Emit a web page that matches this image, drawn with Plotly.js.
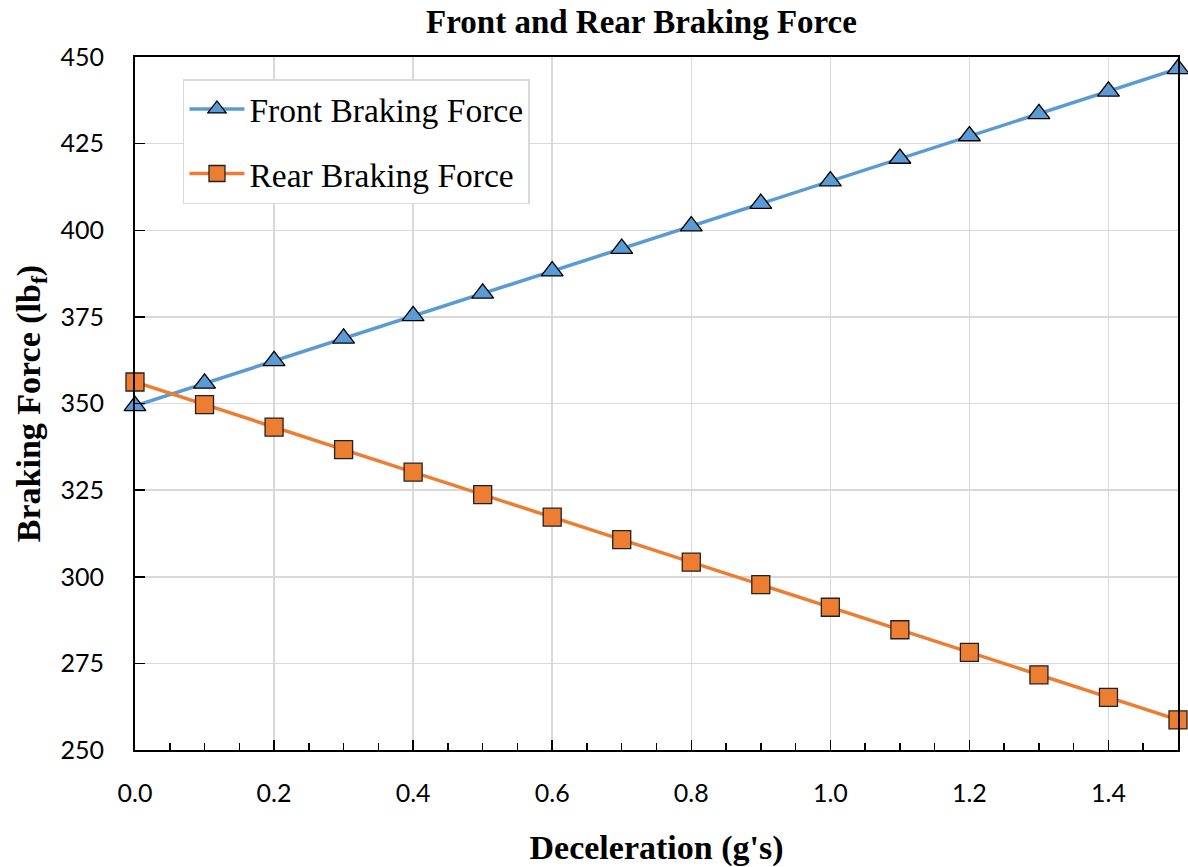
<!DOCTYPE html>
<html>
<head>
<meta charset="utf-8">
<script src="https://cdn.plot.ly/plotly-3.0.1.min.js"></script>
<style>
  html, body { margin: 0; padding: 0; background: #fff; }
  #chart { width: 1188px; height: 867px; }
</style>
</head>
<body>
<div id="chart"></div>
<script>
// Deceleration in g's
const decel = [0.0, 0.1, 0.2, 0.3, 0.4, 0.5, 0.6, 0.7, 0.8, 0.9, 1.0, 1.1, 1.2, 1.3, 1.4, 1.5];
// Front axle braking force (lbf)
const frontForce = [349.3, 355.8, 362.3, 368.8, 375.3, 381.8, 388.2, 394.7, 401.2, 407.7, 414.2, 420.7, 427.2, 433.6, 440.1, 446.6];
// Rear axle braking force (lbf)
const rearForce = [356.2, 349.7, 343.2, 336.7, 330.2, 323.7, 317.2, 310.7, 304.2, 297.7, 291.2, 284.7, 278.2, 271.7, 265.2, 258.7];

const seriesNames = ['Front Braking Force', 'Rear Braking Force'];
const yTickVals = [250, 275, 300, 325, 350, 375, 400, 425, 450];

const serif = '"Liberation Serif", "Times New Roman", serif';
const sans = 'Lato, "Noto Sans", sans-serif';

const traces = [
  {
    x: decel, y: frontForce, name: seriesNames[0], legendgroup: 'front',
    type: 'scatter', mode: 'lines+markers', cliponaxis: false,
    line: { color: '#5B9BD5', width: 3.5 },
    marker: { symbol: 'triangle-up', size: 19, color: '#5B9BD5', line: { color: '#000', width: 1.3 } }
  },
  {
    x: decel, y: rearForce, name: seriesNames[1], legendgroup: 'rear',
    type: 'scatter', mode: 'lines+markers', cliponaxis: false,
    line: { color: '#ED7D31', width: 3.5 },
    marker: { symbol: 'square', size: 18, color: '#ED7D31', line: { color: '#222', width: 1.3 } }
  }
];

const layout = {
  width: 1188, height: 867,
  margin: { l: 135, r: 10, t: 57, b: 117 },
  paper_bgcolor: '#fff', plot_bgcolor: '#fff',
  font: { family: sans, color: '#000', size: 25 },
  title: {
    text: '<b>Front and Rear Braking Force</b>',
    font: { family: serif, size: 33, color: '#000' },
    x: 0.54, xanchor: 'center', y: 0.975, yanchor: 'middle'
  },
  xaxis: {
    range: [0, 1.5], tickmode: 'linear', tick0: 0, dtick: 0.2, tickformat: '.1f',
    showgrid: true, gridcolor: '#d9d9d9', gridwidth: 1.5,
    showline: true, linecolor: '#000', linewidth: 2, mirror: true,
    ticks: 'inside', ticklen: 10, tickwidth: 1.5, tickcolor: '#000',
    minor: { tickmode: 'linear', tick0: 0, dtick: 0.05, ticks: 'inside', ticklen: 7, tickwidth: 1.5,
             tickcolor: '#000', showgrid: false },
    ticklabelstandoff: 20,
    tickfont: { family: sans, size: 25, color: '#000' },
    zeroline: false, automargin: false,
    title: { text: '<b>Deceleration (g\'s)</b>', font: { family: serif, size: 34, color: '#000' }, standoff: 30 }
  },
  yaxis: {
    range: [250, 450], tickmode: 'array', tickvals: yTickVals,
    showgrid: true, gridcolor: '#d9d9d9', gridwidth: 1.5,
    showline: true, linecolor: '#000', linewidth: 2, mirror: true,
    ticks: 'inside', ticklen: 10, tickwidth: 1.5, tickcolor: '#000',
    ticklabelstandoff: 24,
    tickfont: { family: sans, size: 25, color: '#000' },
    zeroline: false, automargin: false,
    title: { text: '<b>Braking Force (lb<sub>f</sub>)</b>', font: { family: serif, size: 34, color: '#000' }, standoff: 10 }
  },
  showlegend: true,
  legend: {
    x: 0.046, y: 0.968, xanchor: 'left', yanchor: 'top',
    bgcolor: '#fff', bordercolor: '#d9d9d9', borderwidth: 1.5,
    font: { family: serif, size: 33.5, color: '#000' },
    traceorder: 'grouped', tracegroupgap: 18, itemwidth: 55
  }
};

Plotly.newPlot('chart', traces, layout, { displayModeBar: false, staticPlot: true });
</script>
</body>
</html>
